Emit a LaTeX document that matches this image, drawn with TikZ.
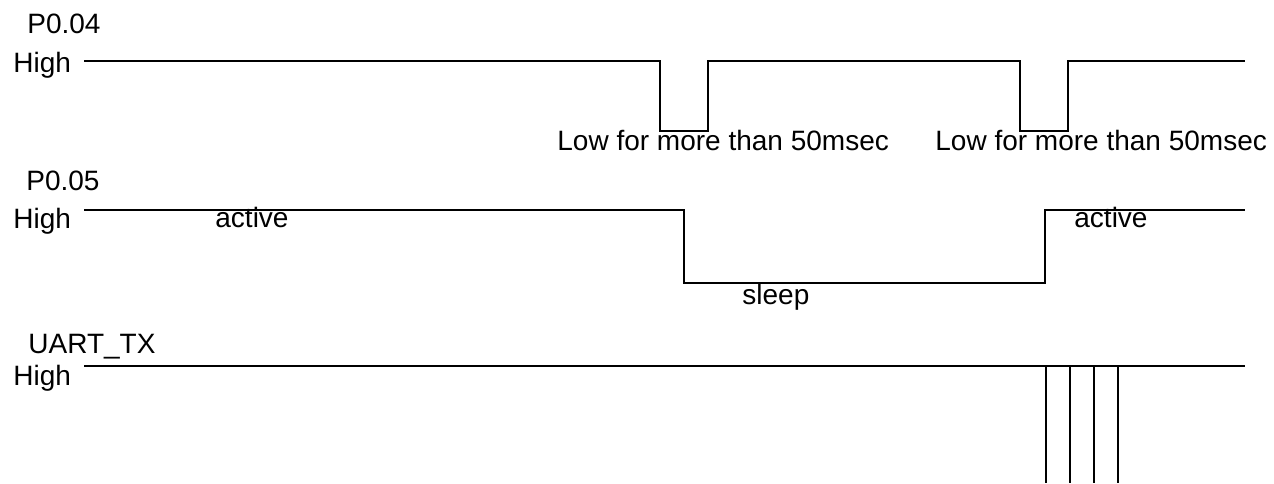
\documentclass[tikz,border=0pt]{standalone}
\usepackage{fontspec}
\setmainfont{Liberation Sans}
\usepackage{tikz}
\usetikzlibrary{positioning}
\tikzset{
  senal/.style={line width=1pt, black},
  texto/.style={anchor=base west, inner sep=0pt, font=\fontsize{14}{16}\selectfont}
}

\begin{document}
\begin{tikzpicture}[x=0.5pt, y=-0.5pt,
  nombre/.style={texto},
  nivel/.style={texto},
  estado/.style={texto}]
  \useasboundingbox (0,0) rectangle (1274,483);

  % --- P0.04 ---
  \node[nombre] (p04) at (27,33) {P0.04};
  \node[nivel] (p04high) at (13,72) {High};
  \draw[senal] (84,61) -- (660,61) -- (660,131) -- (708,131) -- (708,61)
    -- (1020,61) -- (1020,131) -- (1068,131) -- (1068,61) -- (1245,61);
  \node[estado] (low1) at (557,150) {Low for more than 50msec};
  \node[estado] (low2) at (935,150) {Low for more than 50msec};

  % --- P0.05 ---
  \node[nombre] (p05) at (26,190) {P0.05};
  \node[nivel] (p05high) at (13,228) {High};
  \draw[senal] (84,210) -- (684,210) -- (684,283) -- (1045,283) -- (1045,210)
    -- (1245,210);
  \node[estado] (activo1) at (215,227) {active};
  \node[estado] (dormido) at (742,304) {sleep};
  \node[estado] (activo2) at (1074,227) {active};

  % --- UART_TX ---
  \node[nombre] (uart) at (28,353) {UART\_TX};
  \node[nivel] (uarthigh) at (13,385) {High};
  \draw[senal] (84,366) -- (1245,366);
  % pulsos de datos (cortados en el borde)
  \foreach \x in {1046,1070,1094,1118} {
    \draw[senal] (\x,366) -- (\x,483);
  }

\end{tikzpicture}
\end{document}
